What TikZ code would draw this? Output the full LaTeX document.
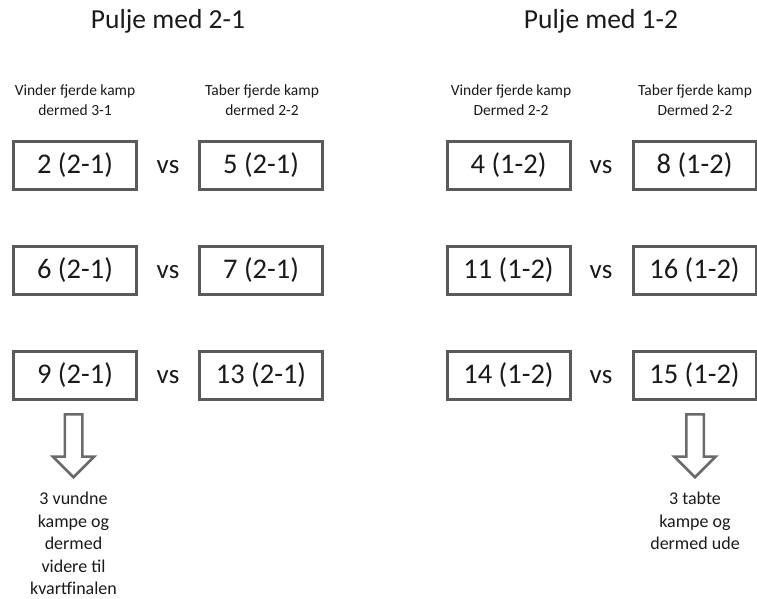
\documentclass[tikz,border=0pt]{standalone}
\usepackage{fontspec}
\setmainfont{Carlito}
\usetikzlibrary{shapes.arrows}

\definecolor{boxgray}{HTML}{5A5A5A}
\definecolor{arrowgray}{HTML}{6A6A6A}
\definecolor{txt}{HTML}{1A1A1A}

\begin{document}
\begin{tikzpicture}[x=1pt,y=-1pt,text=txt]
\tikzstyle{every node}=[inner sep=0pt]
\tikzstyle{title}=[font=\fontsize{27.5}{30}\selectfont]
\tikzstyle{sub}=[align=center,font=\fontsize{15.5}{20}\selectfont]
\tikzstyle{match}=[draw=boxgray,line width=3pt,fill=white,minimum width=123pt,minimum height=48pt,font=\fontsize{28.5}{30}\selectfont]
\tikzstyle{versus}=[anchor=base,font=\fontsize{27}{30}\selectfont]
\tikzstyle{down}=[single arrow,draw=arrowgray,line width=2.5pt,fill=white,rotate=-90,
  minimum height=63pt,minimum width=41pt,single arrow head extend=12pt,inner sep=7.5pt,anchor=tail]
\tikzstyle{result}=[align=center,font=\fontsize{18}{22.5}\selectfont,anchor=north]

\useasboundingbox (0,0) rectangle (757,599);

% Headings
\node[title] (T21) at (168,21) {Pulje med 2-1};
\node[title] (T12) at (601,21) {Pulje med 1-2};
\node[sub] (Vinder21) at (75,100) {Vinder fjerde kamp\\dermed 3-1};
\node[sub] (Taber21) at (262,100) {Taber fjerde kamp\\dermed 2-2};
\node[sub] (Vinder12) at (511,100) {Vinder fjerde kamp\\Dermed 2-2};
\node[sub] (Taber12) at (695,100) {Taber fjerde kamp\\Dermed 2-2};

% Matches
\foreach \y/\r/\a/\b/\c/\d in {165.5/1/2/5/4/8, 270/2/6/7/11/16, 375/3/9/13/14/15} {
  \node[match] (W\r) at (75,\y) {\a\ (2-1)};
  \node[versus] (vsA\r) at (168,0 |- W\r.base) {vs};
  \node[match] (L\r) at (261,\y) {\b\ (2-1)};
  \node[match] (V\r) at (508.5,\y) {\c\ (1-2)};
  \node[versus] (vsB\r) at (601,0 |- V\r.base) {vs};
  \node[match] (U\r) at (694.5,\y) {\d\ (1-2)};
}

% Outcome arrows
\node[down] (A21) at (73.5,413) {};
\node[down] (A12) at (695,413) {};
\node[result] (R21) at (73.5,492) {3 vundne\\kampe og\\dermed\\videre til\\kvartfinalen};
\node[result] (R12) at (695,492) {3 tabte\\kampe og\\dermed ude};

\end{tikzpicture}
\end{document}
